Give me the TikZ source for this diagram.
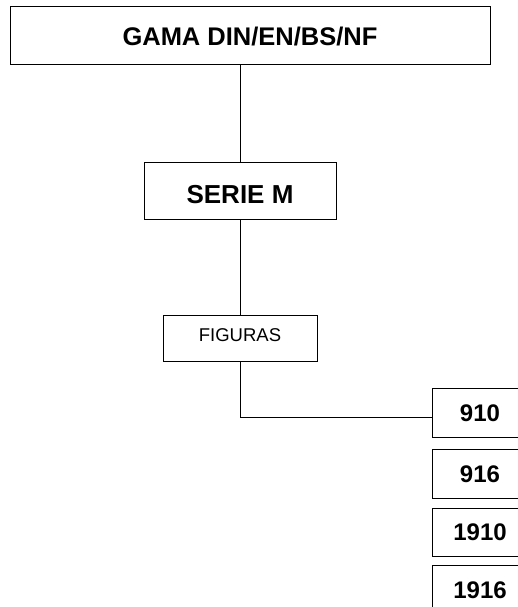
\documentclass[tikz,border=0pt]{standalone}
\usepackage{fontspec}
\setmainfont{Liberation Sans}
\begin{document}
\begin{tikzpicture}[x=1pt,y=-1pt,
  box/.style={draw=black,line width=1pt,fill=white,inner sep=0pt,text depth=0pt,align=center},
  numbox/.style={box,minimum width=96pt,font=\fontsize{24}{28}\selectfont\bfseries,text height=17.2pt},
  conn/.style={draw=black,line width=1pt}]
\useasboundingbox (0,0) rectangle (518,607);
\clip (0,0) rectangle (518,607);
\fill[white] (0,0) rectangle (518,607);
\node[box,minimum width=480pt,minimum height=58pt,text height=18.3pt,font=\fontsize{25.5}{30}\selectfont\bfseries] (top) at (250,36) {GAMA DIN/EN/BS/NF};
\node[box,minimum width=192pt,minimum height=57pt,text height=25.6pt,font=\fontsize{26}{30}\selectfont\bfseries] (serie) at (240,190.5) {SERIE M};
\node[box,minimum width=154pt,minimum height=46pt,text height=13.2pt,text depth=6pt,font=\fontsize{18.5}{22}\selectfont] (fig) at (240,338) {FIGURAS};
\node[numbox,minimum height=49pt] (b910) at (480,412.5) {910};
\node[numbox,minimum height=49pt] (b916) at (480,473.5) {916};
\node[numbox,minimum height=48pt] (b1910) at (480,532) {1910};
\node[numbox,minimum height=49pt] (b1916) at (480,589.5) {1916};
\draw[conn] (serie.north |- top.south) -- (serie.north);
\draw[conn] (serie.south) -- (serie.south |- fig.north);
\draw[conn] (fig.south) |- ([yshift=-5pt]b910.west);
\end{tikzpicture}
\end{document}
